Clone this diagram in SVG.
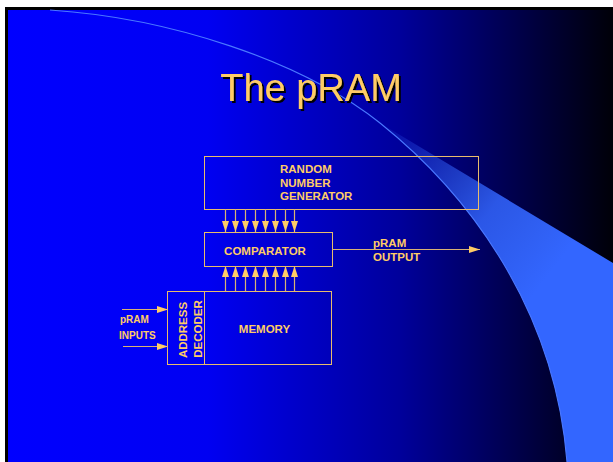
<svg xmlns="http://www.w3.org/2000/svg" width="613" height="462" viewBox="0 0 613 462">
<defs>
<linearGradient id="bg" x1="8" y1="0" x2="613" y2="0" gradientUnits="userSpaceOnUse">
<stop offset="0" stop-color="#0000FF"/>
<stop offset="0.33" stop-color="#0000F2"/>
<stop offset="0.65" stop-color="#00009A"/>
<stop offset="1" stop-color="#000008"/>
</linearGradient>
<linearGradient id="cres" x1="390" y1="130" x2="560" y2="260" gradientUnits="userSpaceOnUse">
<stop offset="0" stop-color="#3366FF" stop-opacity="0.12"/>
<stop offset="0.6" stop-color="#3366FF" stop-opacity="0.85"/>
<stop offset="1" stop-color="#3366FF" stop-opacity="1"/>
</linearGradient>
<filter id="shadow" x="-10%" y="-20%" width="120%" height="150%">
<feDropShadow dx="2" dy="2" stdDeviation="0" flood-color="#000000" flood-opacity="1"/>
</filter>
<marker id="ah" viewBox="0 0 11 7" refX="11" refY="3.5" markerWidth="11" markerHeight="7" markerUnits="userSpaceOnUse" orient="auto">
<path d="M0,0 L11,3.5 L0,7 Z" fill="#FFCC66"/>
</marker>
<style>
.box{fill:none;stroke:#E8BC6C;stroke-width:1}
.wire{stroke:#D8B274;stroke-width:1.2;fill:none;marker-end:url(#ah)}
.lbl{font-family:"Liberation Sans",Arial,sans-serif;font-weight:bold;font-size:11.5px;fill:#FFCC66}
.sm{font-size:10px}
.title{font-family:"Liberation Sans",Arial,sans-serif;font-size:38px;fill:#FFCC66}
</style>
</defs>
<rect width="613" height="462" fill="#FFFFFF"/>
<rect x="5" y="7" width="608" height="455" fill="#000000"/>
<rect x="8" y="10" width="605" height="452" fill="url(#bg)"/>
<path d="M380,123 C470,195 555,310 567,462 L613,462 L613,263 Z" fill="url(#cres)"/>
<path d="M50,10 C170,18 300,60 380,123 C470,195 555,310 567,462" fill="none" stroke="#4A78FF" stroke-width="1.1"/>
<g id="title">
<text class="title" x="311" y="101" text-anchor="middle" filter="url(#shadow)">The pRAM</text>
</g>
<g id="rng">
<rect class="box" x="204.5" y="156.5" width="274" height="53"/>
<text class="lbl" x="280" y="173">RANDOM</text>
<text class="lbl" x="280" y="187">NUMBER</text>
<text class="lbl" x="280" y="200">GENERATOR</text>
</g>
<g id="comparator">
<rect class="box" x="204.5" y="232.5" width="128" height="34"/>
<text class="lbl" x="265" y="255" text-anchor="middle">COMPARATOR</text>
</g>
<g id="memory">
<rect class="box" x="167.5" y="291.5" width="164" height="73"/>
<line class="box" x1="204.5" y1="291.5" x2="204.5" y2="364.5"/>
<text class="lbl" x="264.5" y="333" text-anchor="middle">MEMORY</text>
<text class="lbl" transform="translate(187,330) rotate(-90)" text-anchor="middle">ADDRESS</text>
<text class="lbl" transform="translate(202,329) rotate(-90)" text-anchor="middle">DECODER</text>
</g>
<g id="inputs">
<text class="lbl sm" x="120" y="323">pRAM</text>
<text class="lbl sm" x="119" y="339">INPUTS</text>
</g>
<g id="output">
<text class="lbl" x="373" y="247">pRAM</text>
<text class="lbl" x="373" y="261">OUTPUT</text>
</g>
<g id="connectors">
<line class="wire" x1="225.5" y1="209" x2="225.5" y2="232"/>
<line class="wire" x1="235.5" y1="209" x2="235.5" y2="232"/>
<line class="wire" x1="245.5" y1="209" x2="245.5" y2="232"/>
<line class="wire" x1="255.5" y1="209" x2="255.5" y2="232"/>
<line class="wire" x1="265.5" y1="209" x2="265.5" y2="232"/>
<line class="wire" x1="275.5" y1="209" x2="275.5" y2="232"/>
<line class="wire" x1="285.5" y1="209" x2="285.5" y2="232"/>
<line class="wire" x1="294.5" y1="209" x2="294.5" y2="232"/>
<line class="wire" x1="225.5" y1="291" x2="225.5" y2="266"/>
<line class="wire" x1="235.5" y1="291" x2="235.5" y2="266"/>
<line class="wire" x1="245.5" y1="291" x2="245.5" y2="266"/>
<line class="wire" x1="255.5" y1="291" x2="255.5" y2="266"/>
<line class="wire" x1="265.5" y1="291" x2="265.5" y2="266"/>
<line class="wire" x1="275.5" y1="291" x2="275.5" y2="266"/>
<line class="wire" x1="285.5" y1="291" x2="285.5" y2="266"/>
<line class="wire" x1="294.5" y1="291" x2="294.5" y2="266"/>
<line class="wire" x1="332" y1="249.5" x2="480" y2="249.5"/>
<line class="wire" x1="122" y1="309.5" x2="168" y2="309.5"/>
<line class="wire" x1="123" y1="346.5" x2="168" y2="346.5"/>
</g>
</svg>
